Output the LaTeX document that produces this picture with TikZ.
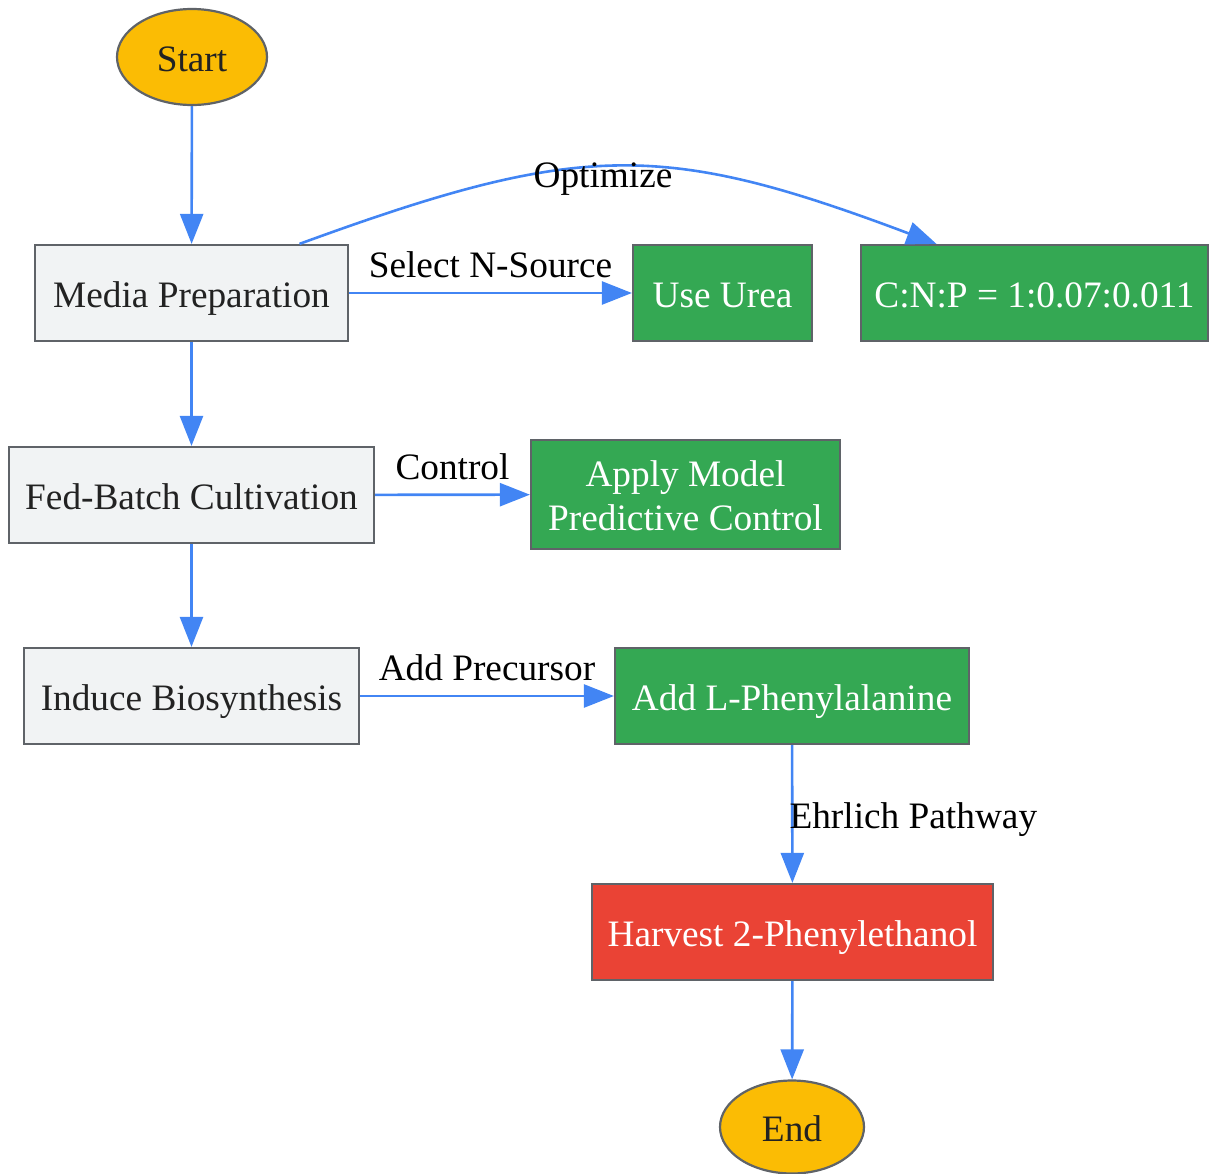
\documentclass[tikz,border=0pt]{standalone}
\usepackage{fontspec}
\setmainfont{Liberation Serif}
\usetikzlibrary{arrows.meta,shapes.geometric,calc}
\definecolor{flowblue}{HTML}{4285F4}
\definecolor{boxgray}{HTML}{F1F3F4}
\definecolor{bordergray}{HTML}{5F6368}
\definecolor{gGreen}{HTML}{34A853}
\definecolor{gRed}{HTML}{EA4335}
\definecolor{gYellow}{HTML}{FBBC04}
\definecolor{txtdark}{HTML}{222222}
\tikzset{
  base/.style={draw=bordergray, line width=2.2pt, inner sep=0pt, align=center,
    font=\fontsize{37.3pt}{43.3pt}\selectfont, text height=28pt, text depth=0pt},
  graybox/.style={base, rectangle, fill=boxgray, text=txtdark, minimum height=96pt},
  greenbox/.style={base, rectangle, fill=gGreen, text=white, minimum height=96pt},
  redbox/.style={base, rectangle, fill=gRed, text=white, minimum height=96pt},
  terminal/.style={base, ellipse, fill=gYellow, text=txtdark},
  flow/.style={draw=flowblue, line width=2.6pt, -{Triangle[length=30pt,width=23pt]}},
  lbl/.style={font=\fontsize{37.3pt}{43.3pt}\selectfont, text=black, inner sep=2pt}
}
\begin{document}
\begin{tikzpicture}[x=1pt,y=-1pt]
\useasboundingbox (0,0) rectangle (1210,1173);
\node[terminal, minimum width=150pt, minimum height=96pt] (start) at (192,57) {Start};
\node[graybox, minimum width=313pt] (media) at (191.5,293) {Media Preparation};
\node[greenbox, minimum width=179pt] (urea) at (722.5,293) {Use Urea};
\node[greenbox, minimum width=347pt] (cnp) at (1034.5,293) {C:N:P = 1:0.07:0.011};
\node[graybox, minimum width=365pt] (fed) at (191.5,495) {Fed-Batch Cultivation};
\node[greenbox, minimum width=309pt, minimum height=109pt, text height=71.3pt, text depth=0pt] (mpc) at (685.5,494.5) {Apply Model\\Predictive Control};
\node[graybox, minimum width=335pt] (induce) at (191.5,696) {Induce Biosynthesis};
\node[greenbox, minimum width=354pt] (phe) at (792,696) {Add L-Phenylalanine};
\node[redbox, minimum width=401pt] (harvest) at (792.5,932) {Harvest 2-Phenylethanol};
\node[terminal, minimum width=144pt, minimum height=93pt] (end) at (792,1127) {End};

\draw[flow] (start) -- (media);
\draw[flow] (media) -- node[lbl, yshift=28pt] {Select N-Source} (urea);
\draw[flow] ([xshift=108pt]media.north) .. controls (581,141) and (663,141) ..
  node[lbl, pos=0.5, xshift=-18pt, yshift=-12pt] {Optimize} ([xshift=-98pt]cnp.north);
\draw[flow] (media) -- (fed);
\draw[flow] (fed) -- node[lbl, yshift=28pt] {Control} (mpc);
\draw[flow] (fed) -- (induce);
\draw[flow] (induce) -- node[lbl, yshift=28pt] {Add Precursor} (phe);
\draw[flow] (phe) -- node[lbl, anchor=west, xshift=-6pt, yshift=-6pt] {Ehrlich Pathway} (harvest);
\draw[flow] (harvest) -- (end);
\end{tikzpicture}
\end{document}
